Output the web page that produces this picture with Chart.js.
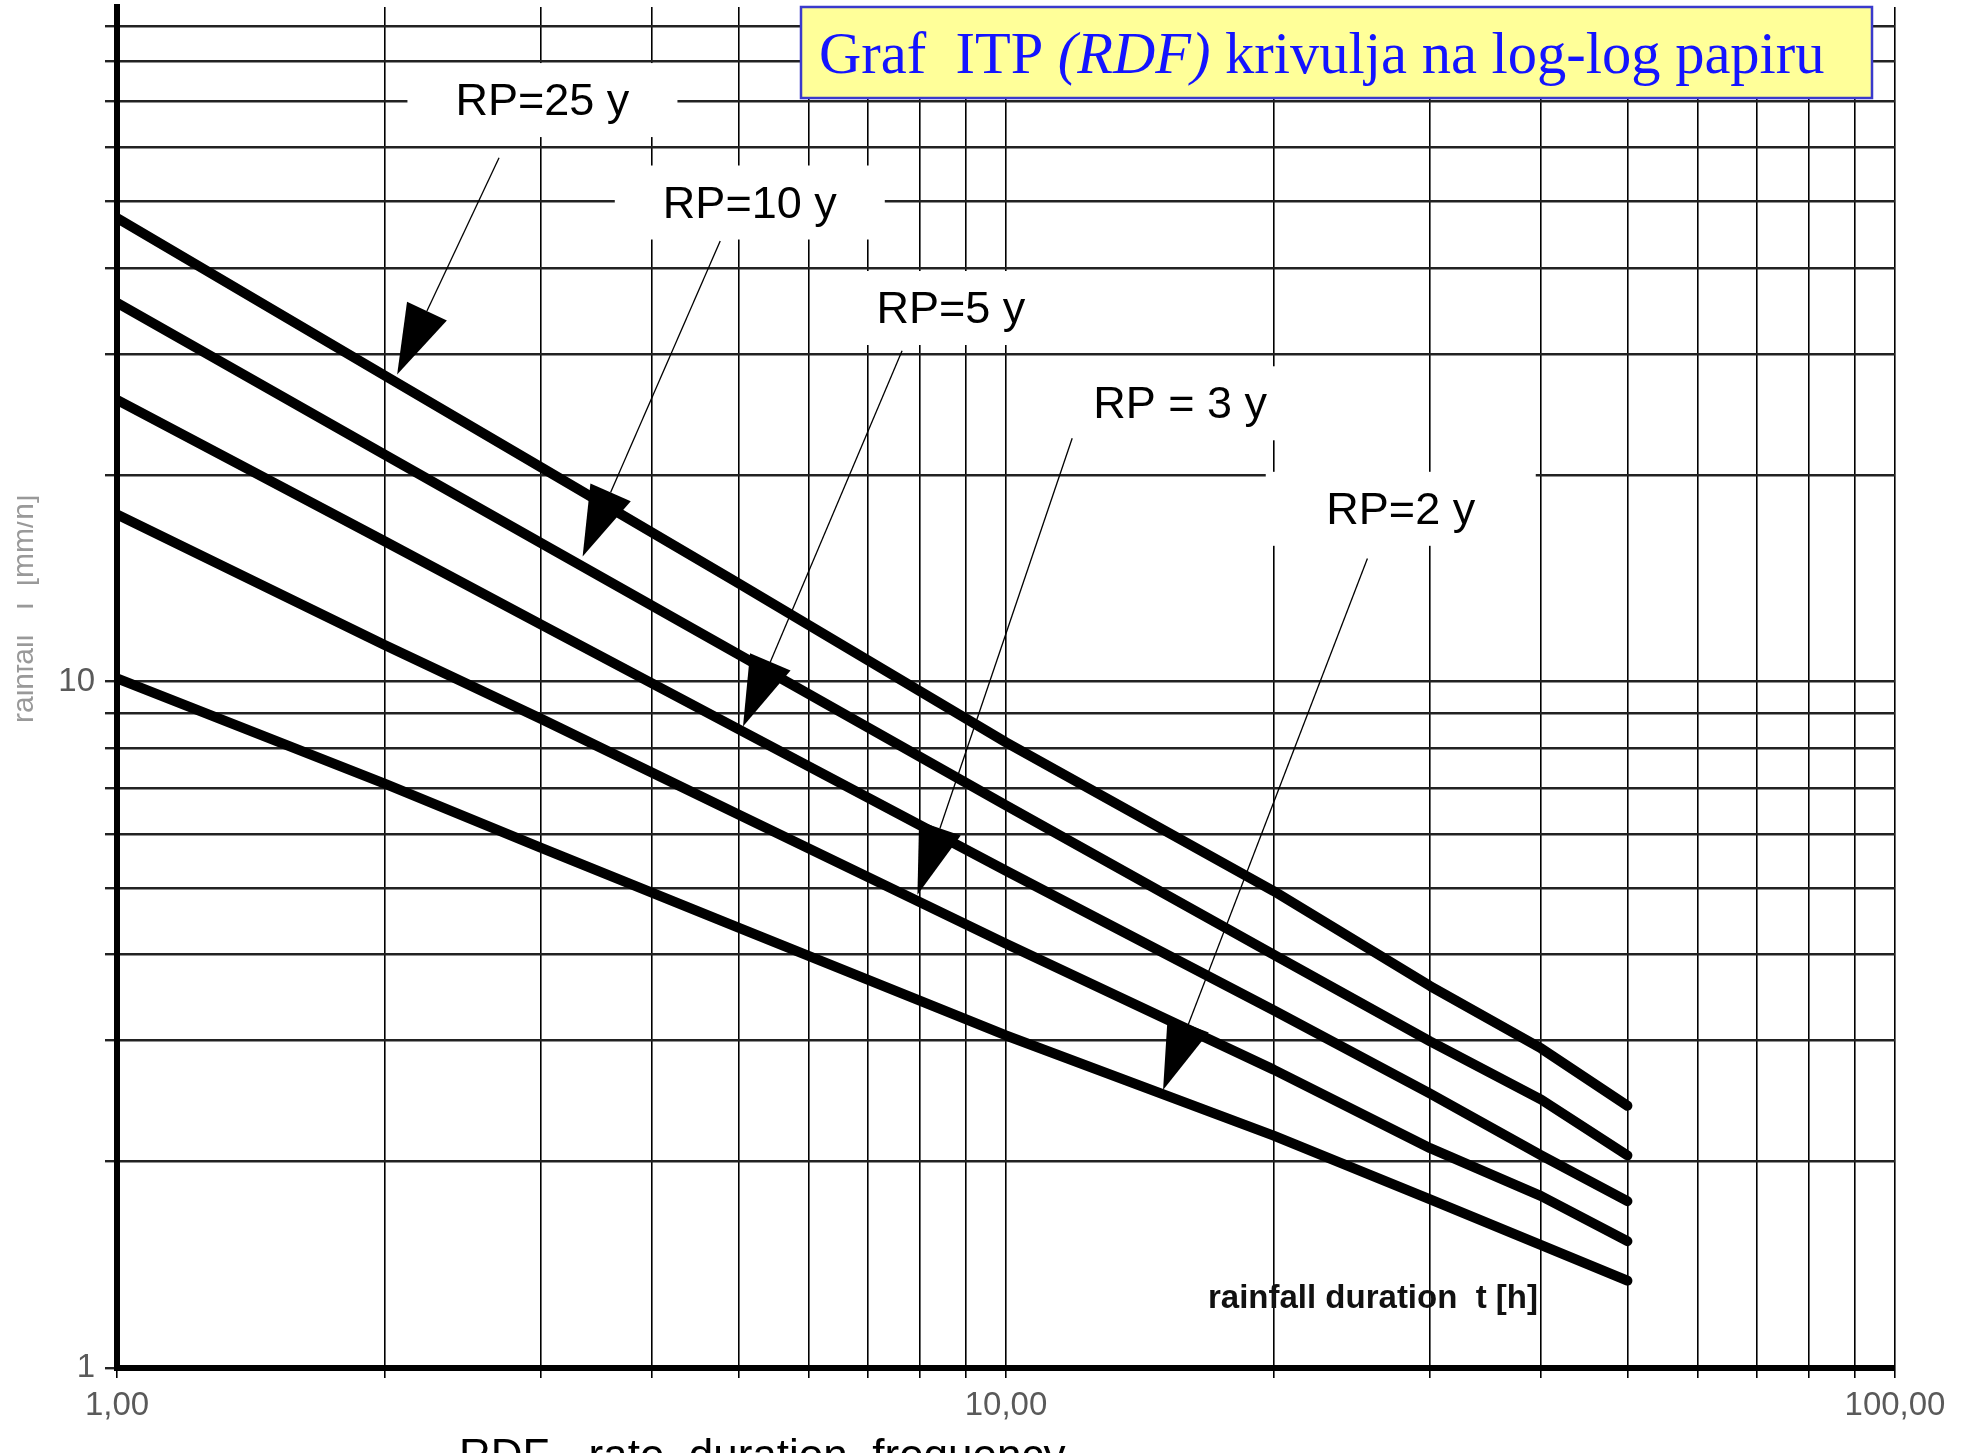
<!DOCTYPE html>
<html>
<head>
<meta charset="utf-8">
<title>Graf ITP (RDF) krivulja na log-log papiru</title>
<script src="https://cdn.jsdelivr.net/npm/chart.js@4.4.1/dist/chart.umd.min.js"></script>
<style>
  html, body { margin: 0; padding: 0; background: #fff; }
  #rdf { display: block; }
</style>
</head>
<body>
<canvas id="rdf" width="1965" height="1453"></canvas>
<script>
// rainfall duration t [h]
const durations = [1, 2, 3, 5, 10, 20, 30, 40, 50];

// rainfall intensity i [mm/h] for each return period
const rp25 = [47.3, 27.9, 20.5, 13.9, 8.15, 4.95, 3.6, 2.92, 2.41];
const rp10 = [35.6, 21.4, 15.9, 10.95, 6.6, 4.0, 2.99, 2.46, 2.04];
const rp5 = [25.7, 16.0, 12.1, 8.52, 5.3, 3.32, 2.51, 2.04, 1.75];
const rp3 = [17.5, 11.3, 8.82, 6.4, 4.15, 2.72, 2.09, 1.78, 1.53];
const rp2 = [10.1, 7.1, 5.72, 4.38, 3.05, 2.18, 1.76, 1.51, 1.34];

// log paper grid and the values that get a label
const xGrid = [1, 2, 3, 4, 5, 6, 7, 8, 9, 10, 20, 30, 40, 50, 60, 70, 80, 90, 100];
const yGrid = [1, 2, 3, 4, 5, 6, 7, 8, 9, 10, 20, 30, 40, 50, 60, 70, 80, 90];
const xLabelled = [1, 10, 100];
const yLabelled = [1, 10];

// callouts: text, label centre, leader start, arrow tip (all as [t, i])
const calloutText = ['RP=25 y', 'RP=10 y', 'RP=5 y', 'RP = 3 y', 'RP=2 y'];
const calloutLabel = [[3.01, 70.5], [5.15, 50], [8.67, 35.1], [15.7, 25.5], [27.8, 17.9]];
const calloutFrom = [[2.69, 57.9], [4.77, 43.8], [7.64, 30.3], [11.87, 22.6], [25.5, 15.1]];
const calloutTip = [[2.066, 28.0], [3.34, 15.2], [5.06, 8.6], [7.95, 4.89], [15.02, 2.54]];

const seriesNames = ['RP=25 y', 'RP=10 y', 'RP=5 y', 'RP=3 y', 'RP=2 y'];
const seriesValues = [rp25, rp10, rp5, rp3, rp2];

const SANS = '"Liberation Sans", Arial, sans-serif';
const NARROW = '"Liberation Sans Narrow", "Arial Narrow", "Liberation Sans", sans-serif';

const decorPlugin = {
    id: 'rdfDecor',
    afterDraw(chart) {
        const { ctx, scales: { x, y } } = chart;
        const px = p => [x.getPixelForValue(p[0]), y.getPixelForValue(p[1])];

        ctx.save();

        // callout labels knock out the grid behind them
        ctx.font = '45px ' + SANS;
        ctx.textAlign = 'center';
        ctx.textBaseline = 'alphabetic';
        calloutText.forEach((txt, i) => {
            const [cx, cy] = px(calloutLabel[i]);
            ctx.fillStyle = '#fff';
            ctx.fillRect(cx - 135, cy - 36, 270, 74);
            ctx.fillStyle = '#000';
            ctx.fillText(txt, cx, cy + 16);
        });

        // leader lines with solid arrowheads
        calloutText.forEach((txt, i) => {
            const [sx, sy] = px(calloutFrom[i]);
            const [tx, ty] = px(calloutTip[i]);
            const len = Math.hypot(tx - sx, ty - sy);
            const ux = (tx - sx) / len, uy = (ty - sy) / len;
            const bx = tx - ux * 70, by = ty - uy * 70;
            ctx.strokeStyle = '#000';
            ctx.lineWidth = 1.3;
            ctx.beginPath();
            ctx.moveTo(sx, sy);
            ctx.lineTo(bx, by);
            ctx.stroke();
            ctx.fillStyle = '#000';
            ctx.beginPath();
            ctx.moveTo(tx, ty);
            ctx.lineTo(bx - uy * 22, by + ux * 22);
            ctx.lineTo(bx + uy * 22, by - ux * 22);
            ctx.closePath();
            ctx.fill();
        });

        // x axis caption inside the plot
        ctx.font = 'bold 33px ' + SANS;
        ctx.textAlign = 'left';
        ctx.fillStyle = '#111';
        ctx.fillText('rainfall duration  t [h]', 1208, 1308);

        // y axis caption, cut off at the left edge
        ctx.save();
        ctx.beginPath();
        ctx.rect(17, 0, 100, chart.height);
        ctx.clip();
        ctx.translate(33, 723);
        ctx.rotate(-Math.PI / 2);
        ctx.font = '30px ' + SANS;
        ctx.fillStyle = '#999';
        ctx.fillText('rainfall   i  [mm/h]', 0, 0);
        ctx.restore();

        // caption under the axis, mostly below the picture edge
        ctx.font = '44px ' + SANS;
        ctx.fillStyle = '#000';
        ctx.fillText('RDF - rate  duration  frequency', 459, 1470);

        // slide title box
        ctx.fillStyle = '#ffff99';
        ctx.fillRect(801, 7, 1071, 91);
        ctx.strokeStyle = '#3a3acc';
        ctx.lineWidth = 2.5;
        ctx.strokeRect(801, 7, 1071, 91);
        const parts = [['Graf  ITP ', ''], ['(RDF)', 'italic '], [' krivulja na log-log papiru', '']];
        let tx = 819;
        ctx.fillStyle = '#1414ff';
        parts.forEach(([s, style]) => {
            ctx.font = style + '58.5px "Liberation Serif", "Times New Roman", serif';
            ctx.fillText(s, tx, 73);
            tx += ctx.measureText(s).width;
        });

        ctx.restore();
    }
};

new Chart(document.getElementById('rdf'), {
    type: 'line',
    data: {
        datasets: seriesValues.map((vals, k) => ({
            label: seriesNames[k],
            data: durations.map((t, i) => ({ x: t, y: vals[i] })),
            borderColor: '#000',
            borderWidth: 10,
            borderCapStyle: 'round',
            borderJoinStyle: 'round',
            pointRadius: 0,
            tension: 0,
            fill: false
        }))
    },
    options: {
        responsive: false,
        animation: false,
        events: [],
        layout: { padding: { left: 0, top: 7, right: 70, bottom: 0 } },
        plugins: {
            legend: { display: false },
            tooltip: { enabled: false }
        },
        scales: {
            x: {
                type: 'logarithmic',
                min: 1,
                max: 100,
                afterBuildTicks: scale => { scale.ticks = xGrid.map(v => ({ value: v })); },
                afterFit: scale => { scale.height = 85; },
                grid: { color: '#000', lineWidth: 1.6, tickLength: 10 },
                border: { display: true, color: '#000', width: 6 },
                ticks: {
                    autoSkip: false,
                    maxRotation: 0,
                    padding: 8,
                    color: '#5a5a5a',
                    font: { family: NARROW, size: 33 },
                    callback: v => xLabelled.includes(v) ? v.toFixed(2).replace('.', ',') : ''
                }
            },
            y: {
                type: 'logarithmic',
                min: 1,
                max: 96,
                afterBuildTicks: scale => { scale.ticks = yGrid.map(v => ({ value: v })); },
                afterFit: scale => {
                    scale.width = 117;
                    scale.paddingTop = 0;
                    scale.paddingBottom = 0;
                },
                grid: { color: '#222', lineWidth: 2.4, tickLength: 12 },
                border: { display: true, color: '#000', width: 6 },
                ticks: {
                    autoSkip: false,
                    padding: 10,
                    color: '#5a5a5a',
                    font: { family: NARROW, size: 33 },
                    callback: v => yLabelled.includes(v) ? String(v) : ''
                }
            }
        }
    },
    plugins: [decorPlugin]
});
</script>
</body>
</html>
